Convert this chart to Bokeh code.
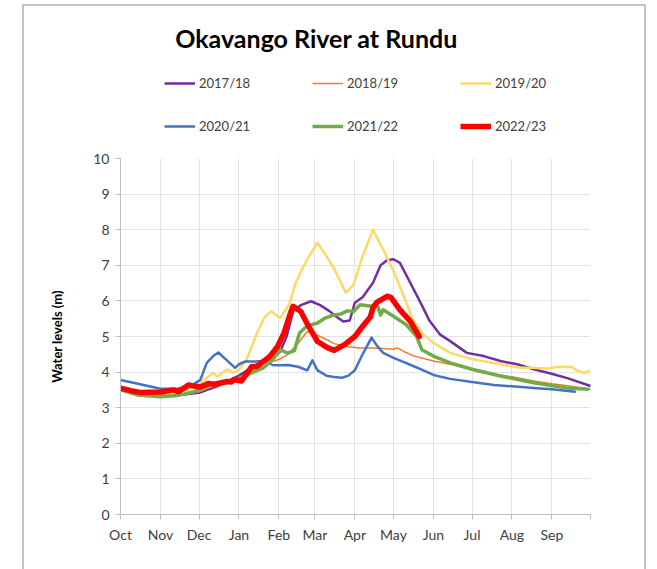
from bokeh.plotting import figure
from bokeh.layouts import column
from bokeh.models import (Range1d, FixedTicker, Legend, LegendItem, Label, ColumnDataSource)
from bokeh.embed import file_html
from bokeh.resources import INLINE

# ---- data (day of hydrological year, starting 1 Oct) ----
month_days = [0, 31, 61, 92, 123, 151, 182, 212, 243, 273, 304, 335, 365]
month_labels = ["Oct", "Nov", "Dec", "Jan", "Feb", "Mar", "Apr", "May", "Jun", "Jul", "Aug", "Sep", ""]

d_1718 = [0, 10, 20, 31, 45, 61, 75, 92, 105, 118, 124, 129, 134, 140, 148, 155, 162, 168, 173, 178,
          182, 188, 196, 202, 207, 212, 217, 225, 233, 240, 248, 256, 269, 282, 295, 308, 321, 334, 347, 365]
v_1718 = [3.52, 3.45, 3.38, 3.35, 3.36, 3.42, 3.6, 3.9, 4.2, 4.35, 4.58, 5.0, 5.7, 5.88, 5.99, 5.88, 5.72, 5.55, 5.42, 5.45,
          5.95, 6.1, 6.5, 7.0, 7.14, 7.17, 7.07, 6.51, 5.95, 5.44, 5.06, 4.87, 4.54, 4.45, 4.31, 4.22, 4.08, 3.96, 3.83, 3.61]

d_1819 = [0, 10, 20, 31, 45, 61, 75, 92, 101, 111, 118, 124, 130, 137, 145, 150, 158, 166, 176, 185, 195, 204,
          212, 215, 220, 228, 243, 256, 265, 282, 304, 321, 335, 350, 365]
v_1819 = [3.5, 3.44, 3.38, 3.36, 3.38, 3.45, 3.65, 3.85, 4.02, 4.16, 4.3, 4.37, 4.5, 4.77, 5.14, 5.08, 4.95, 4.8, 4.72, 4.68, 4.68, 4.66,
          4.64, 4.68, 4.58, 4.45, 4.31, 4.22, 4.14, 3.98, 3.87, 3.75, 3.67, 3.6, 3.52]

d_1920 = [0, 10, 20, 31, 45, 58, 68, 72, 75, 80, 83, 88, 92, 98, 106, 112, 117, 124, 131, 136, 142, 148, 153, 160, 166,
          175, 181, 188, 196, 204, 212, 220, 227, 235, 243, 256, 273, 295, 310, 320, 330, 340, 350, 355, 360, 365]
v_1920 = [3.5, 3.43, 3.4, 3.41, 3.41, 3.59, 3.87, 3.97, 3.87, 4.0, 4.08, 3.98, 4.07, 4.35, 5.1, 5.55, 5.71, 5.52, 5.9, 6.5, 6.97, 7.35, 7.63, 7.25, 6.9,
          6.23, 6.46, 7.25, 8.0, 7.44, 6.84, 6.13, 5.47, 5.06, 4.82, 4.54, 4.36, 4.22, 4.12, 4.12, 4.1, 4.14, 4.15, 4.03, 3.98, 4.03]

d_2021 = [0, 10, 18, 31, 44, 54, 62, 67, 72, 76, 82, 89, 92, 97, 105, 112, 118, 123, 130, 138, 145, 149, 153, 160, 166, 172,
          177, 182, 188, 195, 199, 204, 212, 222, 230, 243, 256, 273, 290, 304, 321, 335, 353]
v_2021 = [3.78, 3.7, 3.64, 3.53, 3.53, 3.6, 3.78, 4.26, 4.45, 4.55, 4.35, 4.12, 4.22, 4.3, 4.3, 4.32, 4.2, 4.19, 4.2, 4.15, 4.05, 4.33, 4.05, 3.9, 3.86, 3.84,
          3.9, 4.05, 4.5, 4.97, 4.75, 4.54, 4.4, 4.25, 4.13, 3.92, 3.81, 3.72, 3.64, 3.6, 3.55, 3.52, 3.45]

d_2122 = [0, 13, 31, 44, 57, 68, 83, 92, 100, 111, 118, 124, 130, 135, 139, 145, 153, 158, 165, 171, 176, 181, 186, 195,
          199, 202, 204, 212, 222, 230, 234, 243, 256, 273, 295, 321, 347, 363]
v_2122 = [3.5, 3.36, 3.31, 3.34, 3.45, 3.6, 3.69, 3.78, 3.95, 4.12, 4.35, 4.63, 4.53, 4.6, 5.1, 5.3, 5.38, 5.5, 5.6, 5.63, 5.72, 5.7, 5.89, 5.85,
          5.94, 5.6, 5.75, 5.57, 5.33, 5.0, 4.63, 4.45, 4.26, 4.08, 3.89, 3.7, 3.55, 3.52]

d_2223 = [0, 8, 15, 31, 41, 45, 53, 58, 62, 68, 73, 83, 86, 88, 94, 102, 106, 116, 122, 127, 132, 134, 140, 146, 153,
          161, 166, 174, 182, 186, 189, 194, 196, 199, 207, 210, 217, 225, 232]
v_2223 = [3.55, 3.48, 3.43, 3.44, 3.5, 3.45, 3.64, 3.6, 3.58, 3.68, 3.66, 3.74, 3.72, 3.79, 3.75, 4.16, 4.16, 4.44, 4.72, 5.1, 5.66, 5.85, 5.7, 5.29, 4.86,
          4.68, 4.61, 4.77, 5.0, 5.19, 5.33, 5.55, 5.8, 5.96, 6.13, 6.1, 5.75, 5.43, 5.0]

series = [
    ("2017/18", d_1718, v_1718, "#7030A0", 2.5),
    ("2018/19", d_1819, v_1819, "#ED7D31", 1.5),
    ("2019/20", d_1920, v_1920, "#FFD966", 2.5),
    ("2020/21", d_2021, v_2021, "#4472C4", 2.5),
    ("2021/22", d_2122, v_2122, "#70AD47", 3.5),
    ("2022/23", d_2223, v_2223, "#FF0000", 5.5),
]

FONT = "Lato"
TXT = "#404040"
GRID = "#e3e3e3"
AX = "#bfbfbf"
BORDER = "2px solid #c4c4c4"

# ---- header figure: title + legend (frame aligned with the chart frame) ----
top = figure(width=624, height=136, output_backend="svg", toolbar_location=None,
             x_range=Range1d(0, 470), y_range=Range1d(0, 134),
             x_axis_type=None, y_axis_type=None,
             min_border_left=0, min_border_right=0, min_border_top=0, min_border_bottom=0)
top.styles = {"border-left": BORDER, "border-right": BORDER, "border-top": BORDER}
top.outline_line_color = None
top.xgrid.visible = False
top.ygrid.visible = False

proxies = {}
for name, d, v, col, lw in series:
    proxies[name] = top.line(x=d, y=v, line_color=col, line_width=lw, visible=False)

order = ["2017/18", "2020/21", "2018/19", "2021/22", "2019/20", "2022/23"]   # column-major fill
items = [LegendItem(label=n, renderers=[proxies[n]]) for n in order]

legend = Legend(items=items, ncols=3, location=(44, 6), padding=0, margin=0,
                border_line_color=None, background_fill_alpha=0, inactive_fill_alpha=0,
                glyph_width=31, glyph_height=20, label_height=20, label_width=90,
                spacing=23, label_standoff=4,
                label_text_font=FONT, label_text_font_size="13px", label_text_color=TXT)
top.add_layout(legend, "center")

title = Label(x=196, y=103, text="Okavango River at Rundu",
              text_font=FONT, text_font_size="25px", text_font_style="bold",
              text_align="center", text_baseline="middle", text_color="#000000")
top.add_layout(title)

# ---- main chart ----
p = figure(width=624, height=429, output_backend="svg", toolbar_location=None,
           x_range=Range1d(0, 365), y_range=Range1d(0, 10),
           min_border_left=96, min_border_right=58, min_border_top=18, min_border_bottom=55)
p.styles = {"border-left": BORDER, "border-right": BORDER}
p.outline_line_color = None

for name, d, v, col, lw in series:
    src = ColumnDataSource(dict(x=d, y=v))
    p.line("x", "y", source=src, line_color=col, line_width=lw, line_join="round", line_cap="round")

p.xaxis.ticker = FixedTicker(ticks=month_days)
p.xaxis.major_label_overrides = {d: l for d, l in zip(month_days, month_labels)}
p.yaxis.ticker = FixedTicker(ticks=list(range(0, 11)))
for ax in (p.xaxis[0], p.yaxis[0]):
    ax.axis_line_color = AX
    ax.major_tick_line_color = AX
    ax.minor_tick_line_color = None
    ax.major_tick_in = 0
    ax.major_tick_out = 5
    ax.major_label_text_font = FONT
    ax.major_label_text_font_size = "14px"
    ax.major_label_text_color = TXT
    ax.major_label_standoff = 6
p.yaxis.axis_label = "Water levels (m)"
p.yaxis.axis_label_text_font = FONT
p.yaxis.axis_label_text_font_size = "13px"
p.yaxis.axis_label_text_font_style = "bold"
p.yaxis.axis_label_text_color = "#000000"
p.yaxis.axis_label_standoff = 25

p.xgrid.ticker = FixedTicker(ticks=month_days)
p.ygrid.ticker = FixedTicker(ticks=list(range(0, 11)))
p.xgrid.grid_line_color = GRID
p.ygrid.grid_line_color = GRID

layout = column(top, p, spacing=0)
layout.styles = {"margin-left": "22px", "margin-top": "4px"}

open("out.html", "w").write(file_html(layout, INLINE))
